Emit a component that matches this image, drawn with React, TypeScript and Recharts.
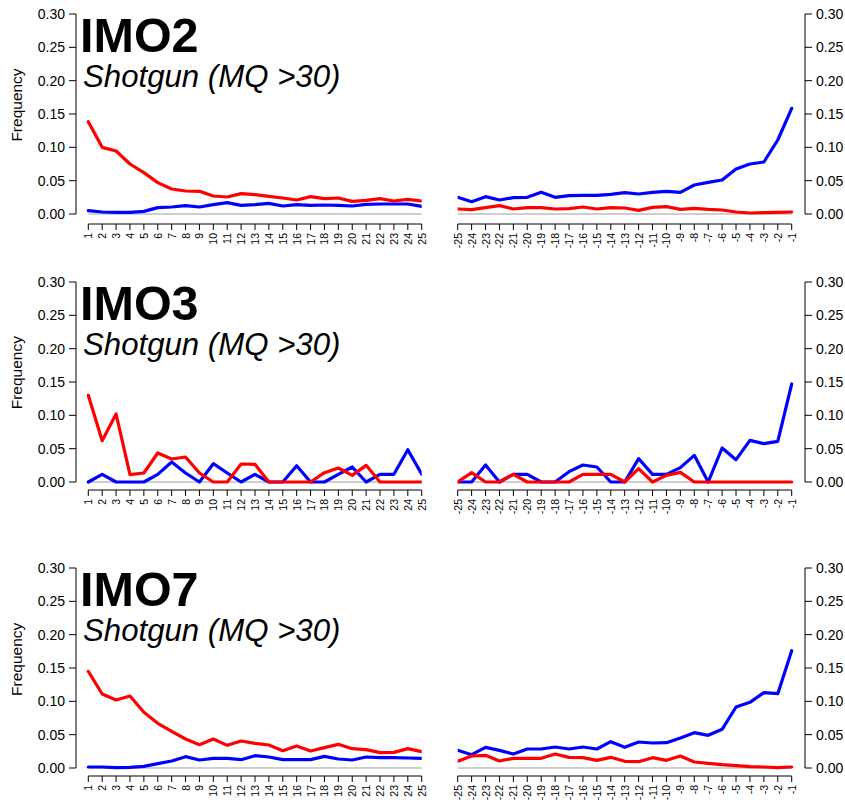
import { LineChart, Line, XAxis, YAxis, ReferenceLine } from 'recharts'

const FONT = '"Liberation Sans", Arial, Helvetica, sans-serif'

// read-position categories
const LEFT_POS = [1, 2, 3, 4, 5, 6, 7, 8, 9, 10, 11, 12, 13, 14, 15, 16, 17, 18, 19, 20, 21, 22, 23, 24, 25]
const RIGHT_POS = [-25, -24, -23, -22, -21, -20, -19, -18, -17, -16, -15, -14, -13, -12, -11, -10, -9, -8, -7, -6, -5, -4, -3, -2, -1]
const Y_TICKS = [0, 0.05, 0.1, 0.15, 0.2, 0.25, 0.3]

const SAMPLE_NAMES = ['IMO2', 'IMO3', 'IMO7']
const SUBTITLE = 'Shotgun (MQ >30)'

const IMO2_LEFT_RED = [0.1385, 0.1, 0.0945, 0.075, 0.062, 0.047, 0.0375, 0.0345, 0.034, 0.027, 0.0255, 0.0305, 0.029, 0.0265, 0.024, 0.021, 0.026, 0.023, 0.024, 0.019, 0.0205, 0.023, 0.0195, 0.022, 0.0195]
const IMO2_LEFT_BLUE = [0.005, 0.003, 0.0025, 0.0025, 0.004, 0.0095, 0.0105, 0.0125, 0.0105, 0.014, 0.017, 0.013, 0.014, 0.016, 0.012, 0.014, 0.013, 0.0135, 0.013, 0.012, 0.0145, 0.015, 0.015, 0.015, 0.0115]
const IMO2_RIGHT_RED = [0.0075, 0.0065, 0.0095, 0.0125, 0.0075, 0.0095, 0.0095, 0.0075, 0.008, 0.0105, 0.0075, 0.0095, 0.009, 0.0055, 0.01, 0.011, 0.007, 0.0085, 0.007, 0.006, 0.003, 0.0015, 0.002, 0.0025, 0.003]
const IMO2_RIGHT_BLUE = [0.025, 0.0185, 0.026, 0.021, 0.0245, 0.025, 0.0325, 0.025, 0.0275, 0.028, 0.028, 0.0295, 0.032, 0.03, 0.0325, 0.034, 0.0325, 0.0435, 0.0475, 0.051, 0.0675, 0.075, 0.078, 0.111, 0.1585]

const IMO3_LEFT_RED = [0.13, 0.062, 0.102, 0.011, 0.0135, 0.0435, 0.0345, 0.0375, 0.0135, 0, 0, 0.027, 0.0265, 0, 0, 0, 0, 0.014, 0.021, 0.01, 0.025, 0, 0, 0, 0]
const IMO3_LEFT_BLUE = [0, 0.0115, 0, 0, 0, 0.0115, 0.03, 0.0135, 0, 0.0275, 0.0135, 0, 0.0115, 0, 0, 0.0245, 0, 0, 0.0115, 0.0225, 0, 0.0115, 0.0115, 0.0485, 0.0115]
const IMO3_RIGHT_RED = [0, 0.014, 0, 0, 0.0115, 0, 0, 0, 0, 0.0115, 0.0115, 0.0115, 0, 0.02, 0, 0.01, 0.0145, 0, 0, 0, 0, 0, 0, 0, 0]
const IMO3_RIGHT_BLUE = [0, 0, 0.0255, 0, 0.0115, 0.0115, 0, 0, 0.0155, 0.0255, 0.0225, 0, 0, 0.035, 0.0115, 0.0115, 0.0215, 0.04, 0, 0.051, 0.0335, 0.0625, 0.0575, 0.061, 0.147]

const IMO7_LEFT_RED = [0.145, 0.111, 0.102, 0.108, 0.0835, 0.067, 0.055, 0.0435, 0.035, 0.0435, 0.034, 0.0405, 0.037, 0.0345, 0.026, 0.033, 0.0255, 0.0305, 0.0355, 0.029, 0.0275, 0.023, 0.0235, 0.029, 0.0245]
const IMO7_LEFT_BLUE = [0.0015, 0.0015, 0.0005, 0.001, 0.0025, 0.0065, 0.0105, 0.017, 0.012, 0.0145, 0.0145, 0.0125, 0.0185, 0.0165, 0.0125, 0.0125, 0.0125, 0.0175, 0.0135, 0.012, 0.0165, 0.0155, 0.0155, 0.015, 0.0145]
const IMO7_RIGHT_RED = [0.01, 0.018, 0.019, 0.0105, 0.0145, 0.0145, 0.0145, 0.021, 0.016, 0.0155, 0.0115, 0.016, 0.01, 0.0095, 0.0155, 0.0115, 0.018, 0.009, 0.007, 0.005, 0.0035, 0.002, 0.0015, 0.0005, 0.0015]
const IMO7_RIGHT_BLUE = [0.0265, 0.02, 0.031, 0.0265, 0.021, 0.0285, 0.0285, 0.0315, 0.0285, 0.0315, 0.0285, 0.0395, 0.031, 0.039, 0.0375, 0.038, 0.045, 0.053, 0.049, 0.058, 0.0915, 0.0985, 0.113, 0.1115, 0.176]

const ROWS = [
  { name: SAMPLE_NAMES[0], top: 14, gap: 10, leftRed: IMO2_LEFT_RED, leftBlue: IMO2_LEFT_BLUE, rightRed: IMO2_RIGHT_RED, rightBlue: IMO2_RIGHT_BLUE },
  { name: SAMPLE_NAMES[1], top: 281.7, gap: 8, leftRed: IMO3_LEFT_RED, leftBlue: IMO3_LEFT_BLUE, rightRed: IMO3_RIGHT_RED, rightBlue: IMO3_RIGHT_BLUE },
  { name: SAMPLE_NAMES[2], top: 568.3, gap: 8, leftRed: IMO7_LEFT_RED, leftBlue: IMO7_LEFT_BLUE, rightRed: IMO7_RIGHT_RED, rightBlue: IMO7_RIGHT_BLUE },
]

const RED = '#FF0000'
const BLUE = '#0000FF'
const PLOT_H = 200
const TOP_PAD = 10
const XAXIS_H = 45

const LEFT_X0 = 0.115
const RIGHT_X1 = -0.044

function RotTick({ x, y, payload }: any) {
  return (
    <text
      transform={`translate(${x},${y}) rotate(-90)`}
      textAnchor="end"
      dominantBaseline="central"
      fontSize={10.5}
      fontFamily={FONT}
      fill="#000"
    >
      {payload.value}
    </text>
  )
}

type PanelProps = {
  side: 'left' | 'right'
  pos: number[]
  red: number[]
  blue: number[]
  gap: number
}

function Panel({ side, pos, red, blue, gap }: PanelProps) {
  const data = pos.map((p, i) => ({ pos: p, red: red[i], blue: blue[i] }))
  const yMin = (-gap * 0.3) / PLOT_H
  const isLeft = side === 'left'
  const width = isLeft ? 430 : 415
  const height = TOP_PAD + PLOT_H + gap + XAXIS_H
  const xDomain = isLeft ? [LEFT_X0, 25] : [-25, RIGHT_X1]
  const axisX = isLeft ? LEFT_X0 : RIGHT_X1
  const first = pos[0]
  const last = pos[pos.length - 1]
  return (
    <LineChart
      width={width}
      height={height}
      data={data}
      margin={isLeft ? { top: TOP_PAD, right: 8.3, bottom: 0, left: 0 } : { top: TOP_PAD, right: 0, bottom: 0, left: 27.7 }}
    >
      <XAxis
        dataKey="pos"
        type="number"
        domain={xDomain}
        ticks={pos}
        interval={0}
        allowDataOverflow
        axisLine={false}
        tickLine={{ stroke: '#000' }}
        tickSize={6}
        tickMargin={3}
        height={XAXIS_H}
        tick={<RotTick />}
      />
      <YAxis
        orientation={isLeft ? 'left' : 'right'}
        type="number"
        domain={[yMin, 0.3]}
        ticks={Y_TICKS}
        allowDataOverflow
        interval={0}
        width={isLeft ? 76 : 40}
        axisLine={false}
        tickLine={{ stroke: '#000' }}
        tickSize={7}
        tickMargin={4}
        tickFormatter={(v: number) => v.toFixed(2)}
        tick={{ fill: '#000', fontSize: 14, fontFamily: FONT }}
      />
      <ReferenceLine
        segment={[{ x: first, y: 0 }, { x: last, y: 0 }]}
        stroke="#BEBEBE"
        strokeWidth={1.5}
        ifOverflow="visible"
      />
      <ReferenceLine
        segment={[{ x: axisX, y: 0 }, { x: axisX, y: 0.3 }]}
        stroke="#000"
        strokeWidth={1}
        ifOverflow="visible"
      />
      <ReferenceLine
        segment={[{ x: first, y: yMin }, { x: last, y: yMin }]}
        stroke="#000"
        strokeWidth={1}
        ifOverflow="visible"
      />
      <Line
        dataKey="blue"
        type="linear"
        stroke={BLUE}
        strokeWidth={3.2}
        strokeLinejoin="round"
        strokeLinecap="round"
        dot={false}
        activeDot={false}
        isAnimationActive={false}
      />
      <Line
        dataKey="red"
        type="linear"
        stroke={RED}
        strokeWidth={3.2}
        strokeLinejoin="round"
        strokeLinecap="round"
        dot={false}
        activeDot={false}
        isAnimationActive={false}
      />
    </LineChart>
  )
}

export default function App() {
  return (
    <div
      style={{
        position: 'absolute',
        left: 0,
        top: 0,
        width: 845,
        height: 812,
        overflow: 'hidden',
        background: '#fff',
        fontFamily: FONT,
      }}
    >
      {ROWS.map((row) => (
        <div key={row.name}>
          <div style={{ position: 'absolute', left: 0, top: row.top - TOP_PAD }}>
            <Panel side="left" pos={LEFT_POS} red={row.leftRed} blue={row.leftBlue} gap={row.gap} />
          </div>
          <div style={{ position: 'absolute', left: 430, top: row.top - TOP_PAD }}>
            <Panel side="right" pos={RIGHT_POS} red={row.rightRed} blue={row.rightBlue} gap={row.gap} />
          </div>
        </div>
      ))}
      <svg width={845} height={812} style={{ position: 'absolute', left: 0, top: 0, pointerEvents: 'none' }}>
        {ROWS.map((row) => (
          <g key={row.name} fill="#000" fontFamily={FONT}>
            <text x={80} y={row.top + 38} fontSize={48.5} fontWeight="bold">
              {row.name}
            </text>
            <text x={83} y={row.top + 73} fontSize={31.2} fontStyle="italic">
              {SUBTITLE}
            </text>
            <text
              transform={`translate(22,${row.top + 91}) rotate(-90)`}
              textAnchor="middle"
              fontSize={15.5}
            >
              Frequency
            </text>
          </g>
        ))}
      </svg>
    </div>
  )
}
